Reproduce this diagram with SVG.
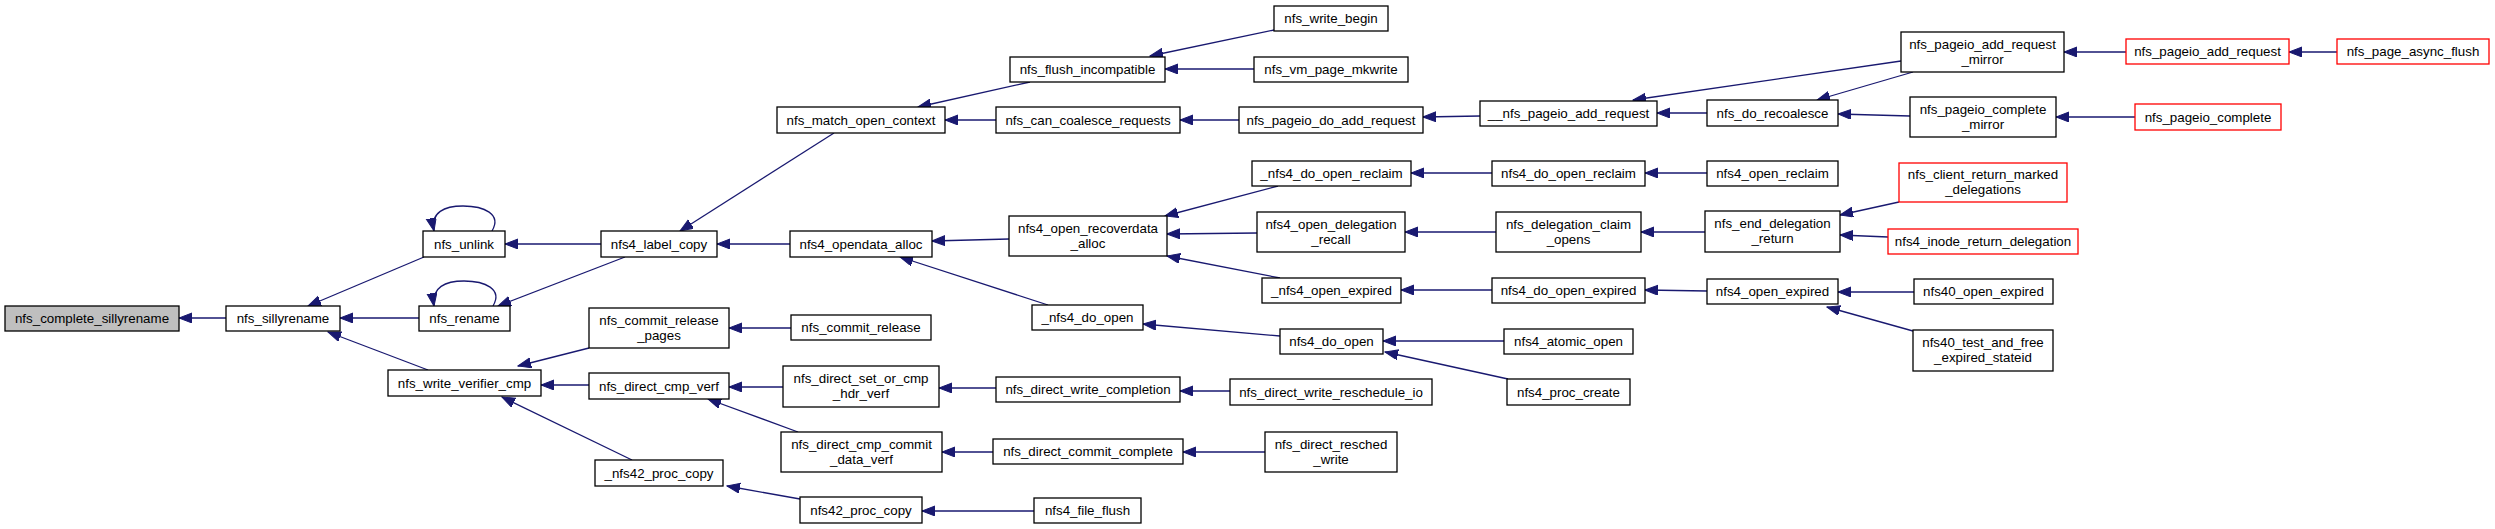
<svg xmlns="http://www.w3.org/2000/svg" width="2495" height="529" viewBox="0 0 2495 529">
<style>
.n rect{fill:#fff;stroke:#000;stroke-width:1.3}
.n.red rect{stroke:#ff0000}
.n.root rect{fill:#bfbfbf}
text{font-family:"Liberation Sans",Arial,Helvetica,sans-serif;font-size:13.33px;text-anchor:middle;fill:#000}
#edges path{fill:none;stroke:#191970;stroke-width:1.3;marker-end:url(#ah)}
</style>
<defs>
<marker id="ah" markerUnits="userSpaceOnUse" markerWidth="14" markerHeight="11" refX="13" refY="5" orient="auto">
<path d="M0,0 L13,5 L0,10 z" fill="#191970" stroke="#191970" stroke-width="1"/>
</marker>
</defs>
<rect x="0" y="0" width="2495" height="529" fill="#fff"/>
<g id="edges">
<path d="M226,318 L179,318"/>
<path d="M424,257 L308,306"/>
<path d="M419,318 L340,318"/>
<path d="M428,370 L328,332"/>
<path d="M492,231 C502,214 484,206 463,206 C445,206 430,212 434,231"/>
<path d="M493,306 C503,289 485,281 464,281 C446,281 431,287 434,306"/>
<path d="M601,244 L505,244"/>
<path d="M625,257 L498,306"/>
<path d="M589,348 L518,366"/>
<path d="M589,385 L541,385"/>
<path d="M632,460 L502,397"/>
<path d="M834,133 L680,231"/>
<path d="M790,244 L717,244"/>
<path d="M791,328 L729,328"/>
<path d="M783,387 L729,387"/>
<path d="M798,432 L708,399"/>
<path d="M800,499 L727,486"/>
<path d="M1030,82 L918,107"/>
<path d="M996,120 L945,120"/>
<path d="M1009,239 L932,241"/>
<path d="M1048,305 L900,257"/>
<path d="M996,388 L939,388"/>
<path d="M993,452 L942,452"/>
<path d="M1274,30 L1150,56"/>
<path d="M1254,69 L1165,69"/>
<path d="M1239,120 L1180,120"/>
<path d="M1278,186 L1165,216"/>
<path d="M1257,233 L1167,234"/>
<path d="M1280,278 L1167,256"/>
<path d="M1280,336 L1143,324"/>
<path d="M1901,61 L1633,100"/>
<path d="M1707,113 L1657,113"/>
<path d="M1480,116 L1423,117"/>
<path d="M1492,173 L1411,173"/>
<path d="M1496,232 L1405,232"/>
<path d="M1492,290 L1401,290"/>
<path d="M1504,341 L1383,341"/>
<path d="M1508,379 L1385,352"/>
<path d="M1230,391 L1180,391"/>
<path d="M1265,452 L1183,452"/>
<path d="M1034,511 L922,511"/>
<path d="M1913,72 L1817,100"/>
<path d="M1910,116 L1838,114"/>
<path d="M1707,173 L1645,173"/>
<path d="M1705,232 L1641,232"/>
<path d="M1707,291 L1645,290"/>
<path d="M1899,202 L1840,215"/>
<path d="M1888,237 L1840,235"/>
<path d="M1914,292 L1838,292"/>
<path d="M1913,331 L1827,307"/>
<path d="M2126,52 L2064,52"/>
<path d="M2337,52 L2289,52"/>
<path d="M2135,117 L2056,117"/>
</g>
<g id="n1" class="n root"><rect x="5" y="306" width="174" height="25"/><text x="92" y="323">nfs_complete_sillyrename</text></g>
<g id="n2" class="n"><rect x="226" y="306" width="114" height="25"/><text x="283" y="323">nfs_sillyrename</text></g>
<g id="n3" class="n"><rect x="423" y="231" width="82" height="26"/><text x="464" y="248.5">nfs_unlink</text></g>
<g id="n4" class="n"><rect x="419" y="306" width="91" height="25"/><text x="464.5" y="323">nfs_rename</text></g>
<g id="n5" class="n"><rect x="388" y="370" width="153" height="26"/><text x="464.5" y="387.5">nfs_write_verifier_cmp</text></g>
<g id="n6" class="n"><rect x="601" y="231" width="116" height="26"/><text x="659" y="248.5">nfs4_label_copy</text></g>
<g id="n7" class="n"><rect x="589" y="308" width="140" height="40"/><text x="659" y="324.5">nfs_commit_release</text><text x="659" y="339.5">_pages</text></g>
<g id="n8" class="n"><rect x="589" y="373" width="140" height="26"/><text x="659" y="390.5">nfs_direct_cmp_verf</text></g>
<g id="n9" class="n"><rect x="595" y="460" width="128" height="26"/><text x="659" y="477.5">_nfs42_proc_copy</text></g>
<g id="n10" class="n"><rect x="777" y="107" width="168" height="26"/><text x="861" y="124.5">nfs_match_open_context</text></g>
<g id="n11" class="n"><rect x="790" y="231" width="142" height="26"/><text x="861" y="248.5">nfs4_opendata_alloc</text></g>
<g id="n12" class="n"><rect x="791" y="315" width="140" height="25"/><text x="861" y="332">nfs_commit_release</text></g>
<g id="n13" class="n"><rect x="783" y="366" width="156" height="41"/><text x="861" y="383">nfs_direct_set_or_cmp</text><text x="861" y="398">_hdr_verf</text></g>
<g id="n14" class="n"><rect x="781" y="432" width="161" height="40"/><text x="861.5" y="448.5">nfs_direct_cmp_commit</text><text x="861.5" y="463.5">_data_verf</text></g>
<g id="n15" class="n"><rect x="800" y="497" width="122" height="26"/><text x="861" y="514.5">nfs42_proc_copy</text></g>
<g id="n16" class="n"><rect x="1010" y="57" width="155" height="25"/><text x="1087.5" y="74">nfs_flush_incompatible</text></g>
<g id="n17" class="n"><rect x="996" y="107" width="184" height="26"/><text x="1088" y="124.5">nfs_can_coalesce_requests</text></g>
<g id="n18" class="n"><rect x="1009" y="216" width="158" height="40"/><text x="1088" y="232.5">nfs4_open_recoverdata</text><text x="1088" y="247.5">_alloc</text></g>
<g id="n19" class="n"><rect x="1032" y="305" width="111" height="25"/><text x="1087.5" y="322">_nfs4_do_open</text></g>
<g id="n20" class="n"><rect x="996" y="377" width="184" height="25"/><text x="1088" y="394">nfs_direct_write_completion</text></g>
<g id="n21" class="n"><rect x="993" y="439" width="190" height="25"/><text x="1088" y="456">nfs_direct_commit_complete</text></g>
<g id="n22" class="n"><rect x="1034" y="498" width="107" height="25"/><text x="1087.5" y="515">nfs4_file_flush</text></g>
<g id="n23" class="n"><rect x="1274" y="6" width="114" height="25"/><text x="1331" y="23">nfs_write_begin</text></g>
<g id="n24" class="n"><rect x="1254" y="57" width="154" height="25"/><text x="1331" y="74">nfs_vm_page_mkwrite</text></g>
<g id="n25" class="n"><rect x="1239" y="107" width="184" height="26"/><text x="1331" y="124.5">nfs_pageio_do_add_request</text></g>
<g id="n26" class="n"><rect x="1252" y="161" width="159" height="25"/><text x="1331.5" y="178">_nfs4_do_open_reclaim</text></g>
<g id="n27" class="n"><rect x="1257" y="212" width="148" height="40"/><text x="1331" y="228.5">nfs4_open_delegation</text><text x="1331" y="243.5">_recall</text></g>
<g id="n28" class="n"><rect x="1262" y="278" width="139" height="25"/><text x="1331.5" y="295">_nfs4_open_expired</text></g>
<g id="n29" class="n"><rect x="1280" y="329" width="103" height="25"/><text x="1331.5" y="346">nfs4_do_open</text></g>
<g id="n30" class="n"><rect x="1230" y="379" width="202" height="26"/><text x="1331" y="396.5">nfs_direct_write_reschedule_io</text></g>
<g id="n31" class="n"><rect x="1265" y="432" width="132" height="40"/><text x="1331" y="448.5">nfs_direct_resched</text><text x="1331" y="463.5">_write</text></g>
<g id="n32" class="n"><rect x="1480" y="101" width="177" height="25"/><text x="1568.5" y="118">__nfs_pageio_add_request</text></g>
<g id="n33" class="n"><rect x="1492" y="161" width="153" height="25"/><text x="1568.5" y="178">nfs4_do_open_reclaim</text></g>
<g id="n34" class="n"><rect x="1496" y="212" width="145" height="40"/><text x="1568.5" y="228.5">nfs_delegation_claim</text><text x="1568.5" y="243.5">_opens</text></g>
<g id="n35" class="n"><rect x="1492" y="278" width="153" height="25"/><text x="1568.5" y="295">nfs4_do_open_expired</text></g>
<g id="n36" class="n"><rect x="1504" y="329" width="129" height="25"/><text x="1568.5" y="346">nfs4_atomic_open</text></g>
<g id="n37" class="n"><rect x="1507" y="379" width="123" height="26"/><text x="1568.5" y="396.5">nfs4_proc_create</text></g>
<g id="n38" class="n"><rect x="1901" y="32" width="163" height="40"/><text x="1982.5" y="48.5">nfs_pageio_add_request</text><text x="1982.5" y="63.5">_mirror</text></g>
<g id="n39" class="n"><rect x="1707" y="100" width="131" height="26"/><text x="1772.5" y="117.5">nfs_do_recoalesce</text></g>
<g id="n40" class="n"><rect x="1910" y="97" width="146" height="40"/><text x="1983" y="113.5">nfs_pageio_complete</text><text x="1983" y="128.5">_mirror</text></g>
<g id="n41" class="n"><rect x="1707" y="161" width="131" height="25"/><text x="1772.5" y="178">nfs4_open_reclaim</text></g>
<g id="n42" class="n red"><rect x="1899" y="163" width="168" height="39"/><text x="1983" y="179">nfs_client_return_marked</text><text x="1983" y="194">_delegations</text></g>
<g id="n43" class="n"><rect x="1705" y="211" width="135" height="41"/><text x="1772.5" y="228">nfs_end_delegation</text><text x="1772.5" y="243">_return</text></g>
<g id="n44" class="n red"><rect x="1888" y="229" width="190" height="25"/><text x="1983" y="246">nfs4_inode_return_delegation</text></g>
<g id="n45" class="n"><rect x="1707" y="279" width="131" height="25"/><text x="1772.5" y="296">nfs4_open_expired</text></g>
<g id="n46" class="n"><rect x="1914" y="279" width="139" height="25"/><text x="1983.5" y="296">nfs40_open_expired</text></g>
<g id="n47" class="n"><rect x="1913" y="330" width="140" height="41"/><text x="1983" y="347">nfs40_test_and_free</text><text x="1983" y="362">_expired_stateid</text></g>
<g id="n48" class="n red"><rect x="2126" y="39" width="163" height="25"/><text x="2207.5" y="56">nfs_pageio_add_request</text></g>
<g id="n49" class="n red"><rect x="2337" y="39" width="152" height="25"/><text x="2413" y="56">nfs_page_async_flush</text></g>
<g id="n50" class="n red"><rect x="2135" y="104" width="146" height="26"/><text x="2208" y="121.5">nfs_pageio_complete</text></g>
</svg>
